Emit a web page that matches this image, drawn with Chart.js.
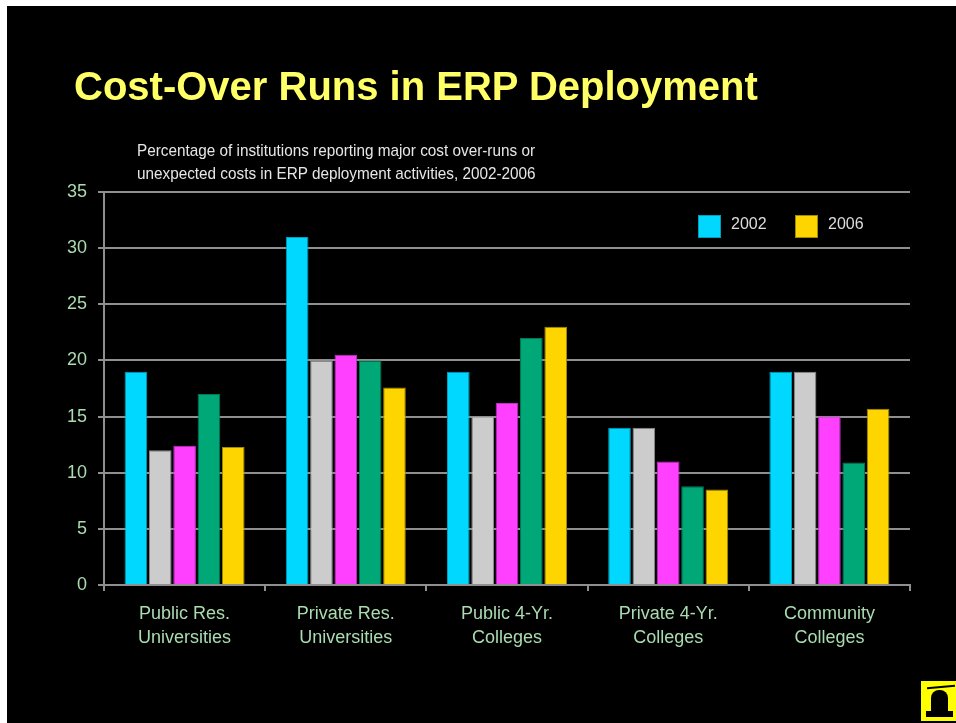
<!DOCTYPE html>
<html>
<head>
<meta charset="utf-8">
<script src="https://cdn.jsdelivr.net/npm/chart.js@4"></script>
<style>
  html, body { margin: 0; padding: 0; background: #ffffff; }
  #slide { position: absolute; left: 7px; top: 6px; width: 949px; height: 717px; background: #000000; }
  #wrap { position: absolute; left: 0; top: 0; width: 956px; height: 723px; }
  #title {
    position: absolute; left: 74px; top: 66px; margin: 0;
    font: bold 40px "Liberation Sans", Arial, sans-serif; line-height: 40px;
    color: #ffff66; white-space: nowrap;
  }
  #subtitle {
    position: absolute; left: 137px; top: 140px; margin: 0;
    font: 17px "Liberation Sans Narrow", "Arial Narrow", "Liberation Sans", Arial, sans-serif;
    line-height: 22.7px; color: #e6e6e6; white-space: nowrap;
    transform-origin: 0 0;
  }
  #logo { position: absolute; left: 921px; top: 681px; width: 35px; height: 40px; background: #ffff00; }
  #logo .cap { position: absolute; left: 6px; top: 5px; width: 28px; height: 2px; background: #000; transform: rotate(-5deg); }
  #logo .head { position: absolute; left: 10px; top: 9px; width: 17px; height: 21px; background: #000; border-radius: 8px 8px 0 0; }
  #logo .base { position: absolute; left: 5px; top: 30px; width: 27px; height: 6px; background: #000; }
</style>
</head>
<body>
<div id="slide"></div>
<div id="wrap"><canvas id="chart" width="956" height="723"></canvas></div>
<h1 id="title">Cost-Over Runs in ERP Deployment</h1>
<div id="subtitle"><span id="sub1">Percentage of institutions reporting major cost over-runs or</span><br>unexpected costs in ERP deployment activities, 2002-2006</div>
<div id="logo"><div class="cap"></div><div class="head"></div><div class="base"></div></div>
<script>
// categories (two-line axis labels)
const categories = [
  ['Public Res.', 'Universities'],
  ['Private Res.', 'Universities'],
  ['Public 4-Yr.', 'Colleges'],
  ['Private 4-Yr.', 'Colleges'],
  ['Community', 'Colleges']
];

// series values
const years = ['2002', '2003', '2004', '2005', '2006'];
const v2002 = [19, 31, 19, 14, 19];
const v2003 = [12, 20, 15, 14, 19];
const v2004 = [12.4, 20.5, 16.2, 11, 15];
const v2005 = [17, 20, 22, 8.8, 10.9];
const v2006 = [12.3, 17.6, 23, 8.5, 15.7];

const yTicks = [0, 5, 10, 15, 20, 25, 30, 35];
const legendYears = ['2002', '2006'];

const fills = ['#00d8ff', '#cccccc', '#ff40ff', '#00a878', '#ffd500'];
const edges = ['#00a0bb', '#8c8c8c', '#c030c0', '#00785a', '#a08a00'];
const tickColor = '#aadcb0';
const gridColor = '#8f8f8f';

const seriesValues = [v2002, v2003, v2004, v2005, v2006];

// the subtitle uses a narrow face; squeeze the regular one if narrow is missing
const sub = document.getElementById('subtitle');
const w1 = document.getElementById('sub1').getBoundingClientRect().width;
if (w1 > 0) sub.style.transform = 'scaleX(' + (398 / w1) + ')';

// legend drawn inside the plot area, top right, only for 2002 and 2006
const insideLegend = {
  id: 'insideLegend',
  afterDraw(chart) {
    const { ctx, chartArea } = chart;
    let x = chartArea.right - 212;
    const y = chartArea.top + 23;
    ctx.save();
    ctx.font = '16px "Liberation Sans", Arial, sans-serif';
    ctx.textBaseline = 'alphabetic';
    chart.data.datasets.forEach((ds) => {
      if (!legendYears.includes(ds.label)) return;
      ctx.fillStyle = ds.backgroundColor;
      ctx.fillRect(x, y, 23, 23);
      ctx.strokeStyle = ds.borderColor;
      ctx.lineWidth = 1;
      ctx.strokeRect(x + 0.5, y + 0.5, 22, 22);
      ctx.fillStyle = '#dddddd';
      ctx.fillText(ds.label, x + 33, y + 13.5);
      x += 97;
    });
    ctx.restore();
  }
};

new Chart(document.getElementById('chart'), {
  type: 'bar',
  data: {
    labels: categories,
    datasets: years.map((yr, i) => ({
      label: yr,
      data: seriesValues[i],
      backgroundColor: fills[i],
      borderColor: edges[i],
      borderWidth: 1,
      categoryPercentage: 0.755,
      barPercentage: 0.93
    }))
  },
  options: {
    responsive: false,
    animation: false,
    events: [],
    layout: { padding: { left: 54, right: 46, top: 192, bottom: 0 } },
    plugins: { legend: { display: false }, tooltip: { enabled: false }, title: { display: false } },
    scales: {
      x: {
        grid: { display: true, drawOnChartArea: false, drawTicks: true, tickLength: 6, color: gridColor, lineWidth: 2, offset: true },
        border: { display: true, color: gridColor, width: 2 },
        ticks: {
          color: tickColor, padding: 11, maxRotation: 0,
          font: { family: '"Liberation Sans", Arial, sans-serif', size: 18, lineHeight: 1.32 }
        },
        afterFit: (s) => { s.height = 138; }
      },
      y: {
        min: 0, max: 35,
        afterBuildTicks: (s) => { s.ticks = yTicks.map((v) => ({ value: v })); },
        grid: { color: gridColor, lineWidth: 2, drawTicks: true, tickLength: 6 },
        border: { display: true, color: gridColor, width: 2 },
        ticks: {
          color: tickColor, padding: 11,
          font: { family: '"Liberation Sans", Arial, sans-serif', size: 18 }
        },
        afterFit: (s) => { s.width = 50; }
      }
    }
  },
  plugins: [insideLegend]
});
</script>
</body>
</html>
